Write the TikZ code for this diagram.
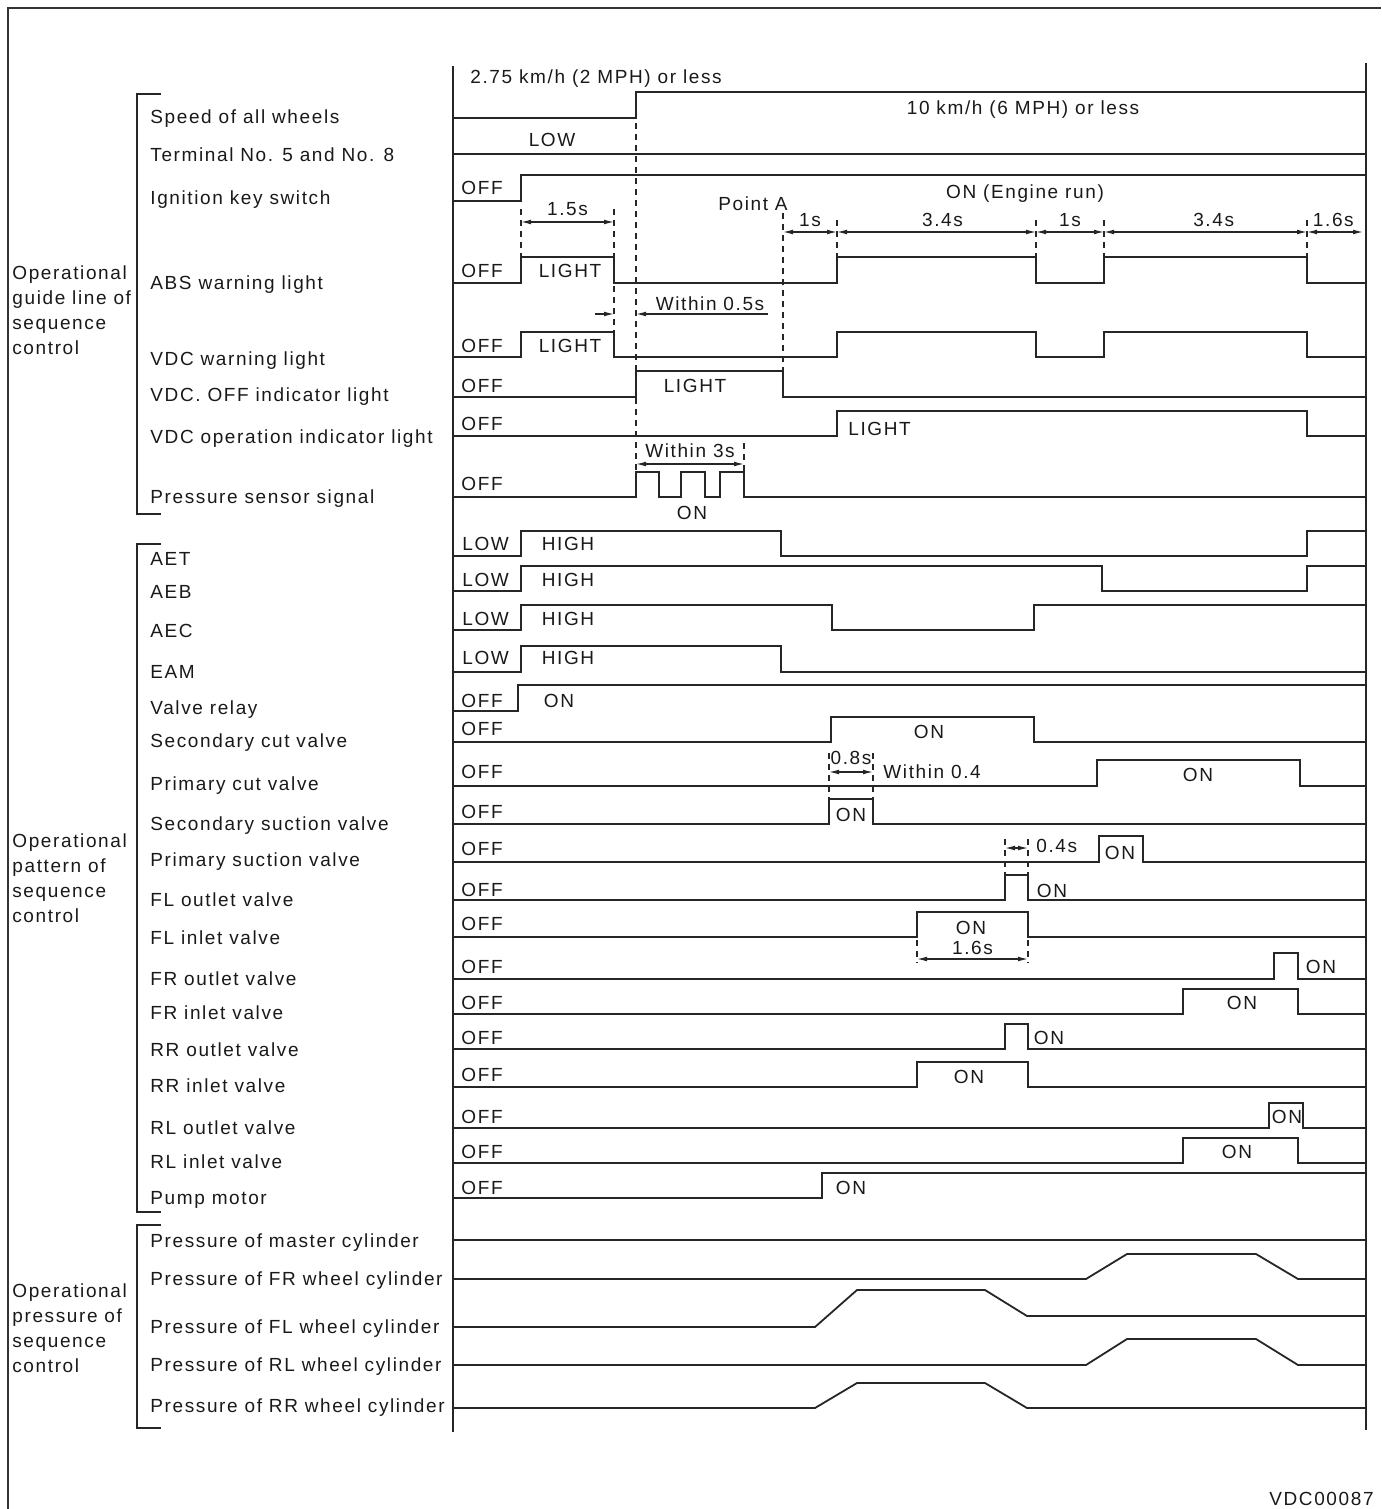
\documentclass[tikz,border=0pt]{standalone}
\usepackage{fontspec}
\setmainfont{Liberation Sans}[LetterSpace=8.5]
\usetikzlibrary{arrows.meta}

\begin{document}
\begin{tikzpicture}[x=0.5pt, y=-0.5pt,
    wave/.style={line width=0.9pt, black!85},
    guide/.style={line width=0.65pt, black!85, dash pattern=on 3pt off 2.5pt},
    dim/.style={line width=0.6pt, black!85, {Latex[length=5pt,width=2.4pt]}-{Latex[length=5pt,width=2.4pt]}},
    half/.style={line width=0.6pt, black!85, -{Latex[length=5pt,width=2.4pt]}},
    lab/.style={anchor=west, inner sep=0pt, text height=0.72em, text depth=0pt, font=\fontsize{9.5}{11.5}\selectfont, text=black!90},
    st/.style={lab, anchor=center},
    sez/.style={anchor=west, inner sep=0pt, align=left, font=\fontsize{9.5}{12.5}\selectfont, text=black!90}]
    \useasboundingbox (0,0) rectangle (1381,1509);
    %Parametri
    \pgfmathsetmacro{\xl}{453}
    \pgfmathsetmacro{\xr}{1366}
    \pgfmathsetmacro{\tign}{521}
    \pgfmathsetmacro{\tlit}{614}
    \pgfmathsetmacro{\tspd}{636}
    \pgfmathsetmacro{\tpa}{783}
    \pgfmathsetmacro{\tabs}{837}
    \pgfmathsetmacro{\toffa}{1036}
    \pgfmathsetmacro{\tonb}{1104}
    \pgfmathsetmacro{\toffb}{1307}
    % Cornice e assi
    \draw[line width=0.7pt, black!80] (8,1509) -- (8,8) -- (1381,8);
    \draw[wave] (\xl,66) -- (\xl,1432);
    \draw[wave] (\xr,63) -- (\xr,1430);
    % Parentesi dei gruppi
    \draw[line width=0.7pt, black!85] (161,94) -- (137,94) -- (137,514) -- (161,514);
    \draw[line width=0.7pt, black!85] (161,544) -- (137,544) -- (137,1212) -- (161,1212);
    \draw[line width=0.7pt, black!85] (161,1225) -- (137,1225) -- (137,1428) -- (161,1428);
    \node[sez] (guida) at (12,310) {Operational\\guide line of\\sequence\\control};
    \node[sez] (schema) at (12,878) {Operational\\pattern of\\sequence\\control};
    \node[sez] (press) at (12,1328) {Operational\\pressure of\\sequence\\control};
    % Nomi dei segnali
    \foreach \nm/\yy/\tx in {speed/116/Speed of all wheels, term/154/Terminal No. 5 and No. 8,
        ign/197/Ignition key switch, abs/282/ABS warning light, vdcw/358/VDC warning light,
        vdcoff/394/VDC. OFF indicator light, vdcop/436/VDC operation indicator light,
        psens/496/Pressure sensor signal, aet/558/AET, aeb/591/AEB, aec/630/AEC, eam/671/EAM,
        relay/707/Valve relay, scut/740/Secondary cut valve, pcut/783/Primary cut valve,
        ssuc/823/Secondary suction valve, psuc/859/Primary suction valve,
        flo/899/FL outlet valve, fli/937/FL inlet valve, fro/978/FR outlet valve,
        fri/1012/FR inlet valve, rro/1049/RR outlet valve, rri/1085/RR inlet valve,
        rlo/1127/RL outlet valve, rli/1161/RL inlet valve, pump/1197/Pump motor,
        pmc/1240/Pressure of master cylinder, pfr/1278/Pressure of FR wheel cylinder,
        pfl/1326/Pressure of FL wheel cylinder, prl/1364/Pressure of RL wheel cylinder,
        prr/1405/Pressure of RR wheel cylinder}
        \node[lab] (n\nm) at (150,\yy) {\tx};
    % Forme d'onda
    \draw[wave] (\xl,118) -| (\tspd,92) -- (\xr,92);
    \draw[wave] (\xl,154) -- (\xr,154);
    \draw[wave] (\xl,201) -| (\tign,175) -- (\xr,175);
    \draw[wave] (\xl,283) -| (\tign,257) -| (\tlit,283) -| (\tabs,257) -| (\toffa,283) -| (\tonb,257) -| (\toffb,283) -- (\xr,283);
    \draw[wave] (\xl,357) -| (\tign,332) -| (\tlit,357) -| (\tabs,332) -| (\toffa,357) -| (\tonb,332) -| (\toffb,357) -- (\xr,357);
    \draw[wave] (\xl,397) -| (\tspd,371) -| (\tpa,397) -- (\xr,397);
    \draw[wave] (\xl,436) -| (\tabs,411) -| (\toffb,436) -- (\xr,436);
    \draw[wave] (\xl,497) -| (\tspd,472) -| (659,497) -| (681,472) -| (705,497) -| (720,472) -| (744,497) -- (\xr,497);
    \draw[wave] (\xl,556) -| (\tign,531) -| (781,556) -| (\toffb,531) -- (\xr,531);
    \draw[wave] (\xl,591) -| (\tign,566) -| (1102,591) -| (\toffb,566) -- (\xr,566);
    \draw[wave] (\xl,630) -| (\tign,605) -| (832,630) -| (1034,605) -- (\xr,605);
    \draw[wave] (\xl,672) -| (\tign,646) -| (781,672) -- (\xr,672);
    \draw[wave] (\xl,711) -| (518,685) -- (\xr,685);
    \draw[wave] (\xl,742) -| (831,717) -| (1034,742) -- (\xr,742);
    \draw[wave] (\xl,786) -| (1097,760) -| (1300,786) -- (\xr,786);
    \draw[wave] (\xl,824) -| (829,799) -| (873,824) -- (\xr,824);
    \draw[wave] (\xl,862) -| (1099,836) -| (1143,862) -- (\xr,862);
    \draw[wave] (\xl,900) -| (1005,875) -| (1028,900) -- (\xr,900);
    \draw[wave] (\xl,937) -| (917,912) -| (1028,937) -- (\xr,937);
    \draw[wave] (\xl,979) -| (1274,953) -| (1298,979) -- (\xr,979);
    \draw[wave] (\xl,1014) -| (1183,989) -| (1298,1014) -- (\xr,1014);
    \draw[wave] (\xl,1049) -| (1005,1024) -| (1028,1049) -- (\xr,1049);
    \draw[wave] (\xl,1087) -| (917,1062) -| (1028,1087) -- (\xr,1087);
    \draw[wave] (\xl,1128) -| (1269,1103) -| (1303,1128) -- (\xr,1128);
    \draw[wave] (\xl,1163) -| (1183,1138) -| (1298,1163) -- (\xr,1163);
    \draw[wave] (\xl,1198) -| (822,1173) -- (\xr,1173);
    % Pressioni
    \draw[wave] (\xl,1240) -- (\xr,1240);
    \draw[wave] (\xl,1279) -- (1086,1279) -- (1127,1254) -- (1256,1254) -- (1298,1279) -- (\xr,1279);
    \draw[wave] (\xl,1327) -- (815,1327) -- (857,1290) -- (985,1290) -- (1027,1316) -- (\xr,1316);
    \draw[wave] (\xl,1365) -- (1086,1365) -- (1127,1339) -- (1256,1339) -- (1298,1365) -- (\xr,1365);
    \draw[wave] (\xl,1408) -- (815,1408) -- (857,1383) -- (985,1383) -- (1027,1408) -- (\xr,1408);
    % Stati
    \foreach \nm/\yy in {ign/187, abs/270, vdcw/345, vdcoff/385, vdcop/423, psens/483,
        relay/700, scut/728, pcut/771, ssuc/811, psuc/848, flo/889, fli/923, fro/966,
        fri/1002, rro/1037, rri/1074, rlo/1116, rli/1151, pump/1187}
        \node[lab] (off\nm) at (461,\yy) {OFF};
    \foreach \nm/\yy in {aet/543, aeb/579, aec/618, eam/657}
        \node[lab] (low\nm) at (462,\yy) {LOW};
    \foreach \nm/\xx/\yy/\tx in {lowterm/552/139/LOW, litabs/570/270/LIGHT, litvdcw/570/345/LIGHT,
        litvdcoff/695/385/LIGHT, onpsens/692/512/ON, hiaet/568/543/HIGH, hiaeb/568/579/HIGH,
        hiaec/568/618/HIGH, hieam/568/657/HIGH, onrelay/559/700/ON, onscut/929/731/ON,
        onpcut/1198/774/ON, onssuc/851/814/ON, onpsuc/1120/852/ON, onflo/1052/890/ON,
        onfli/971/927/ON, onfro/1321/966/ON, onfri/1242/1002/ON, onrro/1049/1037/ON,
        onrri/969/1076/ON, onrlo/1287/1116/ON, onrli/1237/1151/ON, onpump/851/1187/ON}
        \node[st] (\nm) at (\xx,\yy) {\tx};
    \node[lab] (litvdcop) at (848,428) {LIGHT};
    \node[lab] (vlow) at (470,76) {2.75 km/h (2 MPH) or less};
    \node[st] (vhigh) at (1023,107) {10 km/h (6 MPH) or less};
    \node[st] (engine) at (1025,191) {ON (Engine run)};
    \node[st] (pointA) at (753,203) {Point A};
    % Linee guida tratteggiate
    \draw[guide] (\tign,209) -- (\tign,257);
    \draw[guide] (\tlit,209) -- (\tlit,332);
    \draw[guide] (\tspd,123) -- (\tspd,472);
    \draw[guide] (\tpa,213) -- (\tpa,371);
    \foreach \xx in {\tabs,\toffa,\tonb,\toffb}
        \draw[guide] (\xx,220) -- (\xx,257);
    \draw[guide] (744,443) -- (744,472);
    \draw[guide] (829,753) -- (829,799);
    \draw[guide] (873,753) -- (873,799);
    \draw[guide] (1005,839) -- (1005,875);
    \draw[guide] (1028,839) -- (1028,875);
    \draw[guide] (917,940) -- (917,963);
    \draw[guide] (1028,940) -- (1028,963);
    % Quote
    \draw[dim] (\tign,222) -- (\tlit,222) node[st, pos=0.5, yshift=7pt] (q1) {1.5s};
    \draw[dim] (\tpa,232) -- (\tabs,232) node[st, pos=0.5, yshift=6.5pt] (q2) {1s};
    \draw[dim] (\tabs,232) -- (\toffa,232) node[st, pos=0.53, yshift=6.5pt] (q3) {3.4s};
    \draw[dim] (\toffa,232) -- (\tonb,232) node[st, pos=0.5, yshift=6.5pt] (q4) {1s};
    \draw[dim] (\tonb,232) -- (\toffb,232) node[st, pos=0.54, yshift=6.5pt] (q5) {3.4s};
    \draw[dim] (\toffb,232) -- (1363,232) node[st, pos=0.47, yshift=6.5pt] (q6) {1.6s};
    \draw[half] (595,314) -- (\tlit,314);
    \draw[half] (768,314) -- (\tspd,314);
    \node[st] (q7) at (710,303) {Within 0.5s};
    \draw[dim] (\tspd,464) -- (744,464) node[st, pos=0.5, yshift=7pt] (q8) {Within 3s};
    \draw[dim] (829,772) -- (873,772) node[st, pos=0.5, yshift=7.5pt] (q9) {0.8s};
    \node[lab] (q10) at (883,771) {Within 0.4};
    \draw[dim] (1005,848) -- (1028,848);
    \node[lab] (q11) at (1036,845) {0.4s};
    \draw[dim] (917,959) -- (1028,959) node[st, pos=0.5, yshift=6pt] (q12) {1.6s};
    \node[lab, anchor=east] (codice) at (1374,1498) {VDC00087};
\end{tikzpicture}
\end{document}
